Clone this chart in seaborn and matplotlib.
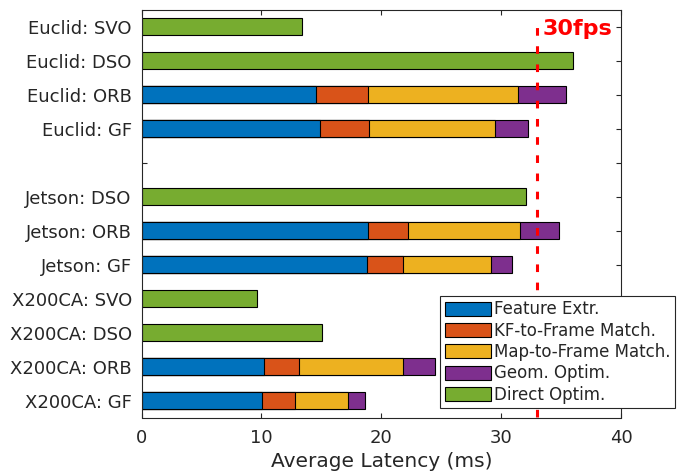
import numpy as np
import pandas as pd
import matplotlib
matplotlib.use("Agg")
import matplotlib.pyplot as plt
from matplotlib.patches import Patch
import seaborn as sns

# Per-platform / per-pipeline latency breakdown (ms)
categories = ["Euclid: SVO", "Euclid: DSO", "Euclid: ORB", "Euclid: GF", " ",
              "Jetson: DSO", "Jetson: ORB", "Jetson: GF",
              "X200CA: SVO", "X200CA: DSO", "X200CA: ORB", "X200CA: GF"]
feature_extr = [0, 0, 14.57, 14.93, 0, 0, 18.88, 18.77, 0, 0, 10.18, 10.07]
kf_match     = [0, 0, 4.31, 4.05, 0, 0, 3.35, 3.08, 0, 0, 2.95, 2.75]
map_match    = [0, 0, 12.52, 10.50, 0, 0, 9.37, 7.28, 0, 0, 8.69, 4.41]
geom_optim   = [0, 0, 4.03, 2.79, 0, 0, 3.25, 1.77, 0, 0, 2.70, 1.45]
direct_optim = [13.40, 35.98, 0, 0, 0, 32.07, 0, 0, 9.65, 15.02, 0, 0]

stage_names = ["Feature Extr.", "KF-to-Frame Match.", "Map-to-Frame Match.",
               "Geom. Optim.", "Direct Optim."]
stage_colors = ["#0072BD", "#D95319", "#EDB120", "#7E2F8E", "#77AC30"]

frame_budget_ms = 33  # 30 fps
budget_label = "30fps"

sns.set_theme(style="ticks", rc={
    "axes.edgecolor": "#262626",
    "axes.linewidth": 0.8,
    "xtick.color": "#262626",
    "ytick.color": "#262626",
    "text.color": "#262626",
    "axes.labelcolor": "#262626",
})
plt.rcParams["font.family"] = ["DejaVu Sans"]

df = pd.DataFrame({
    "category": categories,
    "fe": feature_extr,
    "kf": kf_match,
    "map": map_match,
    "geom": geom_optim,
    "direct": direct_optim,
})
# cumulative ends of the stacked feature-based segments
df["end_fe"] = df["fe"]
df["end_kf"] = df["end_fe"] + df["kf"]
df["end_map"] = df["end_kf"] + df["map"]
df["end_geom"] = df["end_map"] + df["geom"]

fig = plt.figure(figsize=(6.8, 4.71), dpi=100)
ax = fig.add_axes([141.5 / 680, (471 - 417.5) / 471, (621 - 141.5) / 680, (417.5 - 10) / 471])

bar_kw = dict(orient="h", order=categories, width=0.5, edgecolor="black",
              linewidth=0.8, ax=ax, errorbar=None)

# draw the stack from the outermost segment inwards
for col, color in [("end_geom", stage_colors[3]), ("end_map", stage_colors[2]),
                   ("end_kf", stage_colors[1]), ("end_fe", stage_colors[0])]:
    sub = df[df[col] > 0]
    sns.barplot(data=sub, x=col, y="category", color=color, saturation=1, **bar_kw)

sub = df[df["direct"] > 0]
sns.barplot(data=sub, x="direct", y="category", color=stage_colors[4], saturation=1, **bar_kw)

ax.set_xlim(0, 40)
ax.set_ylim(len(categories) - 0.5, -0.5)
ax.set_xticks([0, 10, 20, 30, 40])
ax.set_xlabel("Average Latency (ms)", fontsize=14.5, labelpad=4)
ax.set_ylabel("")
ax.tick_params(axis="both", direction="in", length=3.5, width=0.8,
               top=True, right=True, labelsize=13)
ax.tick_params(axis="y", pad=7)
ax.tick_params(axis="x", pad=8)
for s in ax.spines.values():
    s.set_visible(True)

# frame-rate budget
ax.plot([frame_budget_ms, frame_budget_ms], [len(categories) - 0.5, -0.15],
        color="red", linewidth=2.2, linestyle=(0, (2.5, 3.45)), zorder=3)
ax.text(frame_budget_ms + 0.45, 0.06, budget_label, color="red", fontsize=16,
        fontweight="bold", ha="left", va="center", zorder=4)

handles = [Patch(facecolor=c, edgecolor="black", linewidth=0.8, label=n)
           for n, c in zip(stage_names, stage_colors)]
leg = fig.legend(handles=handles, loc="upper left",
                 bbox_to_anchor=(440 / 680, 1 - 295.7 / 471), borderaxespad=0,
                 fontsize=12, frameon=True, fancybox=False, framealpha=1,
                 edgecolor="#262626", handlelength=2.75, handleheight=0.9,
                 handletextpad=0.22, labelspacing=0.2, borderpad=0.28)
leg.get_frame().set_linewidth(0.8)
leg.set_zorder(10)

fig.savefig("out.png", dpi=100)
